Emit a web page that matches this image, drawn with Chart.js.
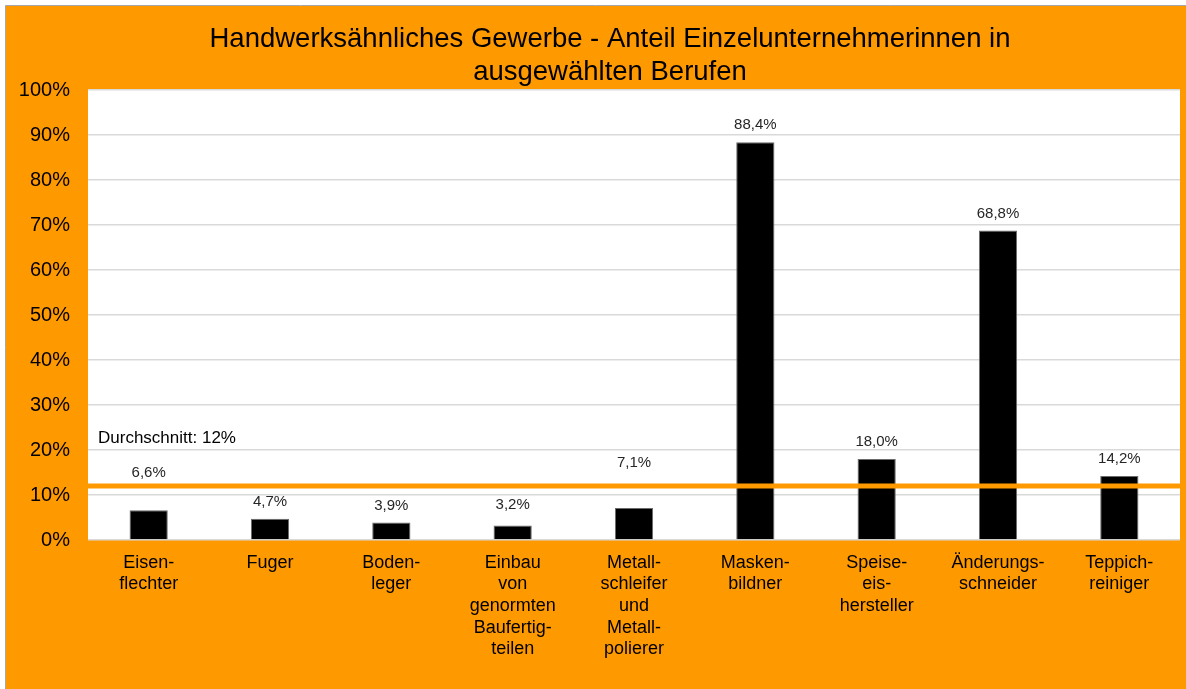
<!DOCTYPE html>
<html>
<head>
<meta charset="utf-8">
<style>
  html, body { margin: 0; padding: 0; background: #fff; }
  #wrap { position: relative; width: 1186px; height: 689px; }
</style>
</head>
<body>
<div id="wrap"><canvas id="chart"></canvas></div>
<script src="https://cdn.jsdelivr.net/npm/chart.js"></script>
<script>
// Berufe (mehrzeilige Beschriftungen wie im Original)
const categories = [
  ['Eisen-', 'flechter'],
  ['Fuger'],
  ['Boden-', 'leger'],
  ['Einbau', 'von', 'genormten', 'Baufertig-', 'teilen'],
  ['Metall-', 'schleifer', 'und', 'Metall-', 'polierer'],
  ['Masken-', 'bildner'],
  ['Speise-', 'eis-', 'hersteller'],
  ['Änderungs-', 'schneider'],
  ['Teppich-', 'reiniger']
];
// Anteil Einzelunternehmerinnen in %
const shares = [6.6, 4.7, 3.9, 3.2, 7.1, 88.4, 18.0, 68.8, 14.2];
// Durchschnitt (Linie über die ganze Breite)
const averageLine = [12, 12];
const averageLabel = 'Durchschnitt: 12%';
const yTicks = [0, 10, 20, 30, 40, 50, 60, 70, 80, 90, 100];

const ORANGE = '#FF9900';
const fmt = v => v.toFixed(1).replace('.', ',') + '%';

// orange background with thin grey frame
const bgPlugin = {
  id: 'bg',
  afterLayout(chart) {
    // title in the original sits a bit right of the canvas centre
    if (chart.titleBlock) chart.titleBlock.left = 40;
  },
  beforeDraw(chart) {
    const { ctx, width, height, chartArea } = chart;
    ctx.save();
    ctx.fillStyle = ORANGE;
    ctx.fillRect(6, 6, width - 6, height - 6);
    ctx.strokeStyle = '#a6a6a6';
    ctx.lineWidth = 1;
    ctx.beginPath();
    ctx.moveTo(5.5, height);
    ctx.lineTo(5.5, 5.5);
    ctx.lineTo(width, 5.5);
    ctx.stroke();
    ctx.fillStyle = '#ffffff';
    ctx.fillRect(chartArea.left, chartArea.top, chartArea.right - chartArea.left, chartArea.bottom - chartArea.top);
    ctx.restore();
  }
};

// value labels + average label
const labelPlugin = {
  id: 'valueLabels',
  afterDatasetsDraw(chart, args, opts) {
    const { ctx } = chart;
    const meta = chart.getDatasetMeta(1);
    ctx.save();
    ctx.font = '15px "Liberation Sans", Arial, sans-serif';
    ctx.fillStyle = '#262626';
    ctx.textAlign = 'center';
    ctx.textBaseline = 'middle';
    meta.data.forEach((bar, i) => {
      const lift = opts.lift[i] !== undefined ? opts.lift[i] : 17;
      ctx.fillText(fmt(shares[i]), bar.x, bar.y - lift);
    });
    const y = chart.scales.y.getPixelForValue(averageLine[0]);
    ctx.font = '17px "Liberation Sans", Arial, sans-serif';
    ctx.fillStyle = '#000';
    ctx.textAlign = 'left';
    ctx.fillText(averageLabel, chart.chartArea.left + 10, y - 48);
    ctx.restore();
  }
};

new Chart(document.getElementById('chart'), {
  type: 'bar',
  data: {
    labels: categories,
    datasets: [
      {
        type: 'line',
        label: 'Durchschnitt',
        data: [{ x: 0, y: averageLine[0] }, { x: 1, y: averageLine[1] }],
        xAxisID: 'x2',
        borderColor: ORANGE,
        borderWidth: 5,
        pointRadius: 0,
        fill: false,
        order: 0
      },
      {
        label: 'Anteil',
        data: shares,
        backgroundColor: '#000000',
        borderColor: '#6b6b6b',
        borderWidth: 1,
        grouped: false,
        categoryPercentage: 1,
        barPercentage: 0.315,
        order: 1
      }
    ]
  },
  options: {
    responsive: true,
    maintainAspectRatio: false,
    animation: false,
    layout: { padding: { left: 6, right: 6, top: 0, bottom: 0 } },
    plugins: {
      legend: { display: false },
      tooltip: { enabled: false },
      title: {
        display: true,
        text: ['Handwerksähnliches Gewerbe - Anteil Einzelunternehmerinnen in', 'ausgewählten Berufen'],
        color: '#000',
        font: { family: '"Liberation Sans", Arial, sans-serif', size: 27.5, weight: 'normal', lineHeight: 1.2 },
        padding: { top: 23, bottom: 1 }
      },
      valueLabels: { lift: { 0: 37, 4: 45, 3: 21 } }
    },
    scales: {
      x: {
        offset: true,
        grid: { display: false, drawTicks: false },
        border: { display: false },
        ticks: {
          color: '#000',
          padding: 12,
          maxRotation: 0,
          autoSkip: false,
          font: { family: '"Liberation Sans", Arial, sans-serif', size: 18, lineHeight: 1.2 }
        },
        afterFit(scale) { scale.height = 149; }
      },
      x2: {
        type: 'linear',
        min: 0,
        max: 1,
        offset: false,
        display: false
      },
      y: {
        min: 0,
        max: 100,
        afterBuildTicks(scale) { scale.ticks = yTicks.map(v => ({ value: v })); },
        grid: { color: '#d9d9d9', lineWidth: 1.5, drawTicks: false },
        border: { display: false },
        ticks: {
          color: '#000',
          padding: 18,
          callback: v => v + '%',
          font: { family: '"Liberation Sans", Arial, sans-serif', size: 20 }
        },
        afterFit(scale) { scale.width = 82; }
      }
    }
  },
  plugins: [bgPlugin, labelPlugin]
});
</script>
</body>
</html>
